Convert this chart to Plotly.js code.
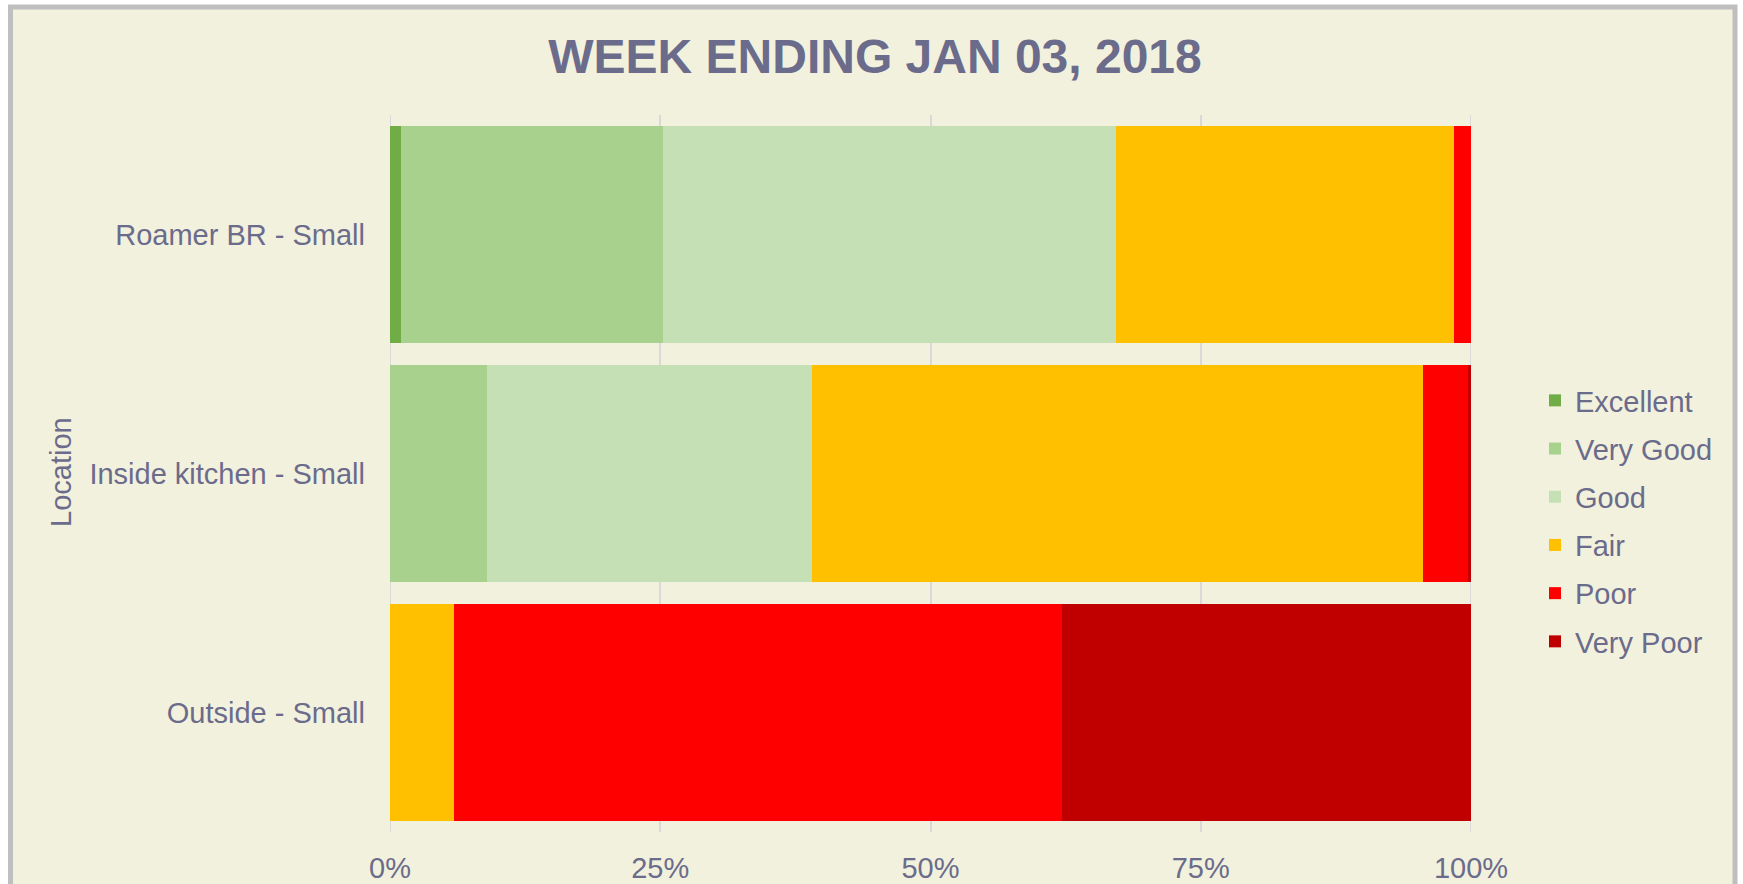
<!DOCTYPE html>
<html>
<head>
<meta charset="utf-8">
<script src="https://cdn.plot.ly/plotly-3.0.1.min.js"></script>
<style>
  html, body { margin: 0; padding: 0; background: #ffffff; }
  #chart { width: 1743px; height: 884px; }
</style>
</head>
<body>
<div id="chart"></div>
<script>
// Categories (top to bottom)
const locations = ['Roamer BR - Small', 'Inside kitchen - Small', 'Outside - Small'];

// Series values (% of readings per location)
const excellent = [0.99, 0, 0];
const veryGood  = [24.26, 8.95, 0];
const good      = [41.94, 30.12, 0];
const fair      = [31.26, 56.49, 5.92];
const poor      = [1.55, 4.16, 56.22];
const veryPoor  = [0, 0.28, 37.86];

const seriesNames = ['Excellent', 'Very Good', 'Good', 'Fair', 'Poor', 'Very Poor'];
const seriesValues = [excellent, veryGood, good, fair, poor, veryPoor];
const seriesColors = ['#70AD47', '#A9D18E', '#C5E0B4', '#FFC000', '#FF0000', '#C00000'];

const xTickVals = [0, 25, 50, 75, 100];
const xTickText = ['0%', '25%', '50%', '75%', '100%'];

const titleText = 'WEEK ENDING JAN 03, 2018';
const yTitleText = 'Location';

const textColor = '#6b6b8b';
const gridColor = '#d9d9d9';
const fontFamily = '"Liberation Sans", Arial, sans-serif';

const traces = seriesNames.map((name, i) => ({
  type: 'bar',
  orientation: 'h',
  name: name,
  legendgroup: name,
  y: locations,
  x: seriesValues[i],
  marker: { color: seriesColors[i], line: { width: 0 } },
  hovertemplate: '%{y}<br>' + name + ': %{x:.1f}%<extra></extra>'
}));

const W = 1743, H = 884;
const L = 390, R = 272, T = 115, B = 52;
const pw = W - L - R, ph = H - T - B;
const px2x = p => (p - L) / pw;
const py2y = p => (H - B - p) / ph;

// gridlines at the range edges (0% and 100%), which Plotly omits
const edgeLines = [xTickVals[0], xTickVals[xTickVals.length - 1]].map(v => ({
  type: 'line', layer: 'below',
  xref: 'x', yref: 'paper',
  x0: v, x1: v, y0: 0, y1: 1,
  line: { color: gridColor, width: 2 }
}));

const layout = {
  width: W,
  height: H,
  margin: { l: L, r: R, t: T, b: B, pad: 0 },
  paper_bgcolor: '#ffffff',
  plot_bgcolor: 'rgba(0,0,0,0)',
  barmode: 'stack',
  barnorm: 'percent',
  bargap: 0.09,
  font: { family: fontFamily, color: textColor, size: 29 },
  title: {
    text: '<b>' + titleText + '</b>',
    font: { family: fontFamily, size: 48, color: textColor },
    x: 0.502, xanchor: 'center',
    y: 1 - 56 / H, yanchor: 'middle'
  },
  xaxis: {
    range: [0, 100],
    tickvals: xTickVals,
    ticktext: xTickText,
    showgrid: true,
    gridcolor: gridColor,
    gridwidth: 2,
    zeroline: false,
    showline: false,
    ticks: '',
    ticklabelstandoff: 16,
    tickfont: { size: 29, color: textColor, family: fontFamily },
    fixedrange: true
  },
  yaxis: {
    type: 'category',
    categoryorder: 'array',
    categoryarray: locations,
    autorange: 'reversed',
    showgrid: false,
    zeroline: false,
    showline: false,
    ticks: '',
    ticklabelstandoff: 24,
    tickfont: { size: 29, color: textColor, family: fontFamily },
    fixedrange: true
  },
  annotations: [{
    text: yTitleText,
    xref: 'paper', yref: 'paper',
    x: px2x(61), y: py2y(472),
    xanchor: 'center', yanchor: 'middle',
    textangle: -90,
    showarrow: false,
    font: { size: 29, color: textColor, family: fontFamily }
  }],
  legend: {
    orientation: 'v',
    traceorder: 'grouped',
    tracegroupgap: 7.5,
    x: px2x(1535), xanchor: 'left',
    y: py2y(521), yanchor: 'middle',
    bgcolor: 'rgba(0,0,0,0)',
    font: { size: 29, color: textColor, family: fontFamily }
  },
  shapes: [{
    type: 'rect', layer: 'below',
    xref: 'paper', yref: 'paper',
    x0: px2x(10.5), x1: px2x(1735),
    y0: py2y(7), y1: py2y(910),
    fillcolor: '#f2f1dd',
    line: { color: '#bfbfbf', width: 5 }
  }].concat(edgeLines),
  showlegend: true
};

Plotly.newPlot('chart', traces, layout, { displayModeBar: false });
</script>
</body>
</html>
